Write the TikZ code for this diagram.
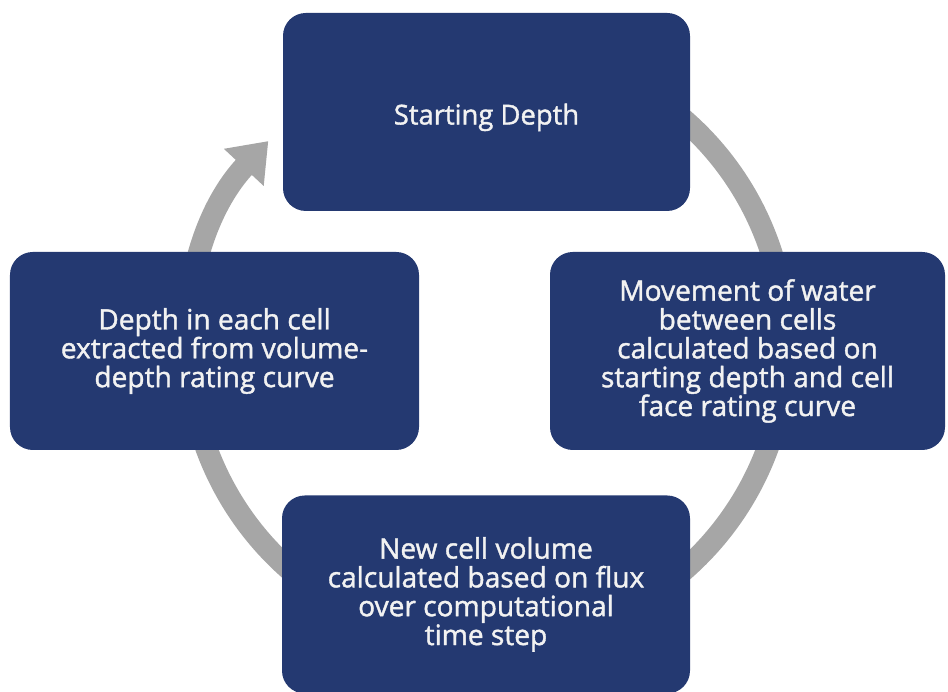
\documentclass[tikz,border=0pt]{standalone}
\usepackage{fontspec}
\setmainfont{Open Sans}[RawFeature={embolden=1.4}]
\usepackage{tikz}
\usetikzlibrary{arrows.meta,positioning,backgrounds}
\definecolor{cycleBlue}{RGB}{36, 57, 113}
\definecolor{cycleGray}{RGB}{166, 166, 166}
\definecolor{cycleText}{RGB}{242, 242, 242}

\begin{document}
\begin{tikzpicture}[
        stage/.style={rectangle, fill=cycleBlue, rounded corners=13pt, minimum width=#1, minimum height=3.96cm, align=center, text=cycleText, font=\fontsize{16pt}{16.4pt}\selectfont, execute at begin node={\rule{0pt}{18pt}}},
        loop/.style={-{Triangle[width=1.04cm, length=0.72cm]}, line width=0.44cm, cycleGray}
    ]
        \useasboundingbox (0,0) rectangle (18.96,13.84);
        \coordinate (c) at (9.74,6.94);

        % Stages
        \node[stage=8.14cm, font=\fontsize{15.6pt}{16.4pt}\selectfont] (start) at (9.73,11.6) {Starting Depth};
        \node[stage=7.9cm] (move) at (14.95,6.82) {
            Movement of water\\
            between cells\\
            calculated based on\\
            starting depth and cell\\
            face rating curve
        };
        \node[stage=8.16cm] (vol) at (9.72,1.95) {
            New cell volume\\
            calculated based on flux\\
            over computational\\
            time step
        };
        \node[stage=8.18cm] (depth) at (4.29,6.82) {
            Depth in each cell\\
            extracted from volume-\\
            depth rating curve
        };

        % Cycle arrow
        \begin{scope}[on background layer]
            \draw[loop] (c) ++(110:5.98) arc[start angle=110, end angle=-223, radius=5.98];
        \end{scope}

    \end{tikzpicture}
\end{document}
